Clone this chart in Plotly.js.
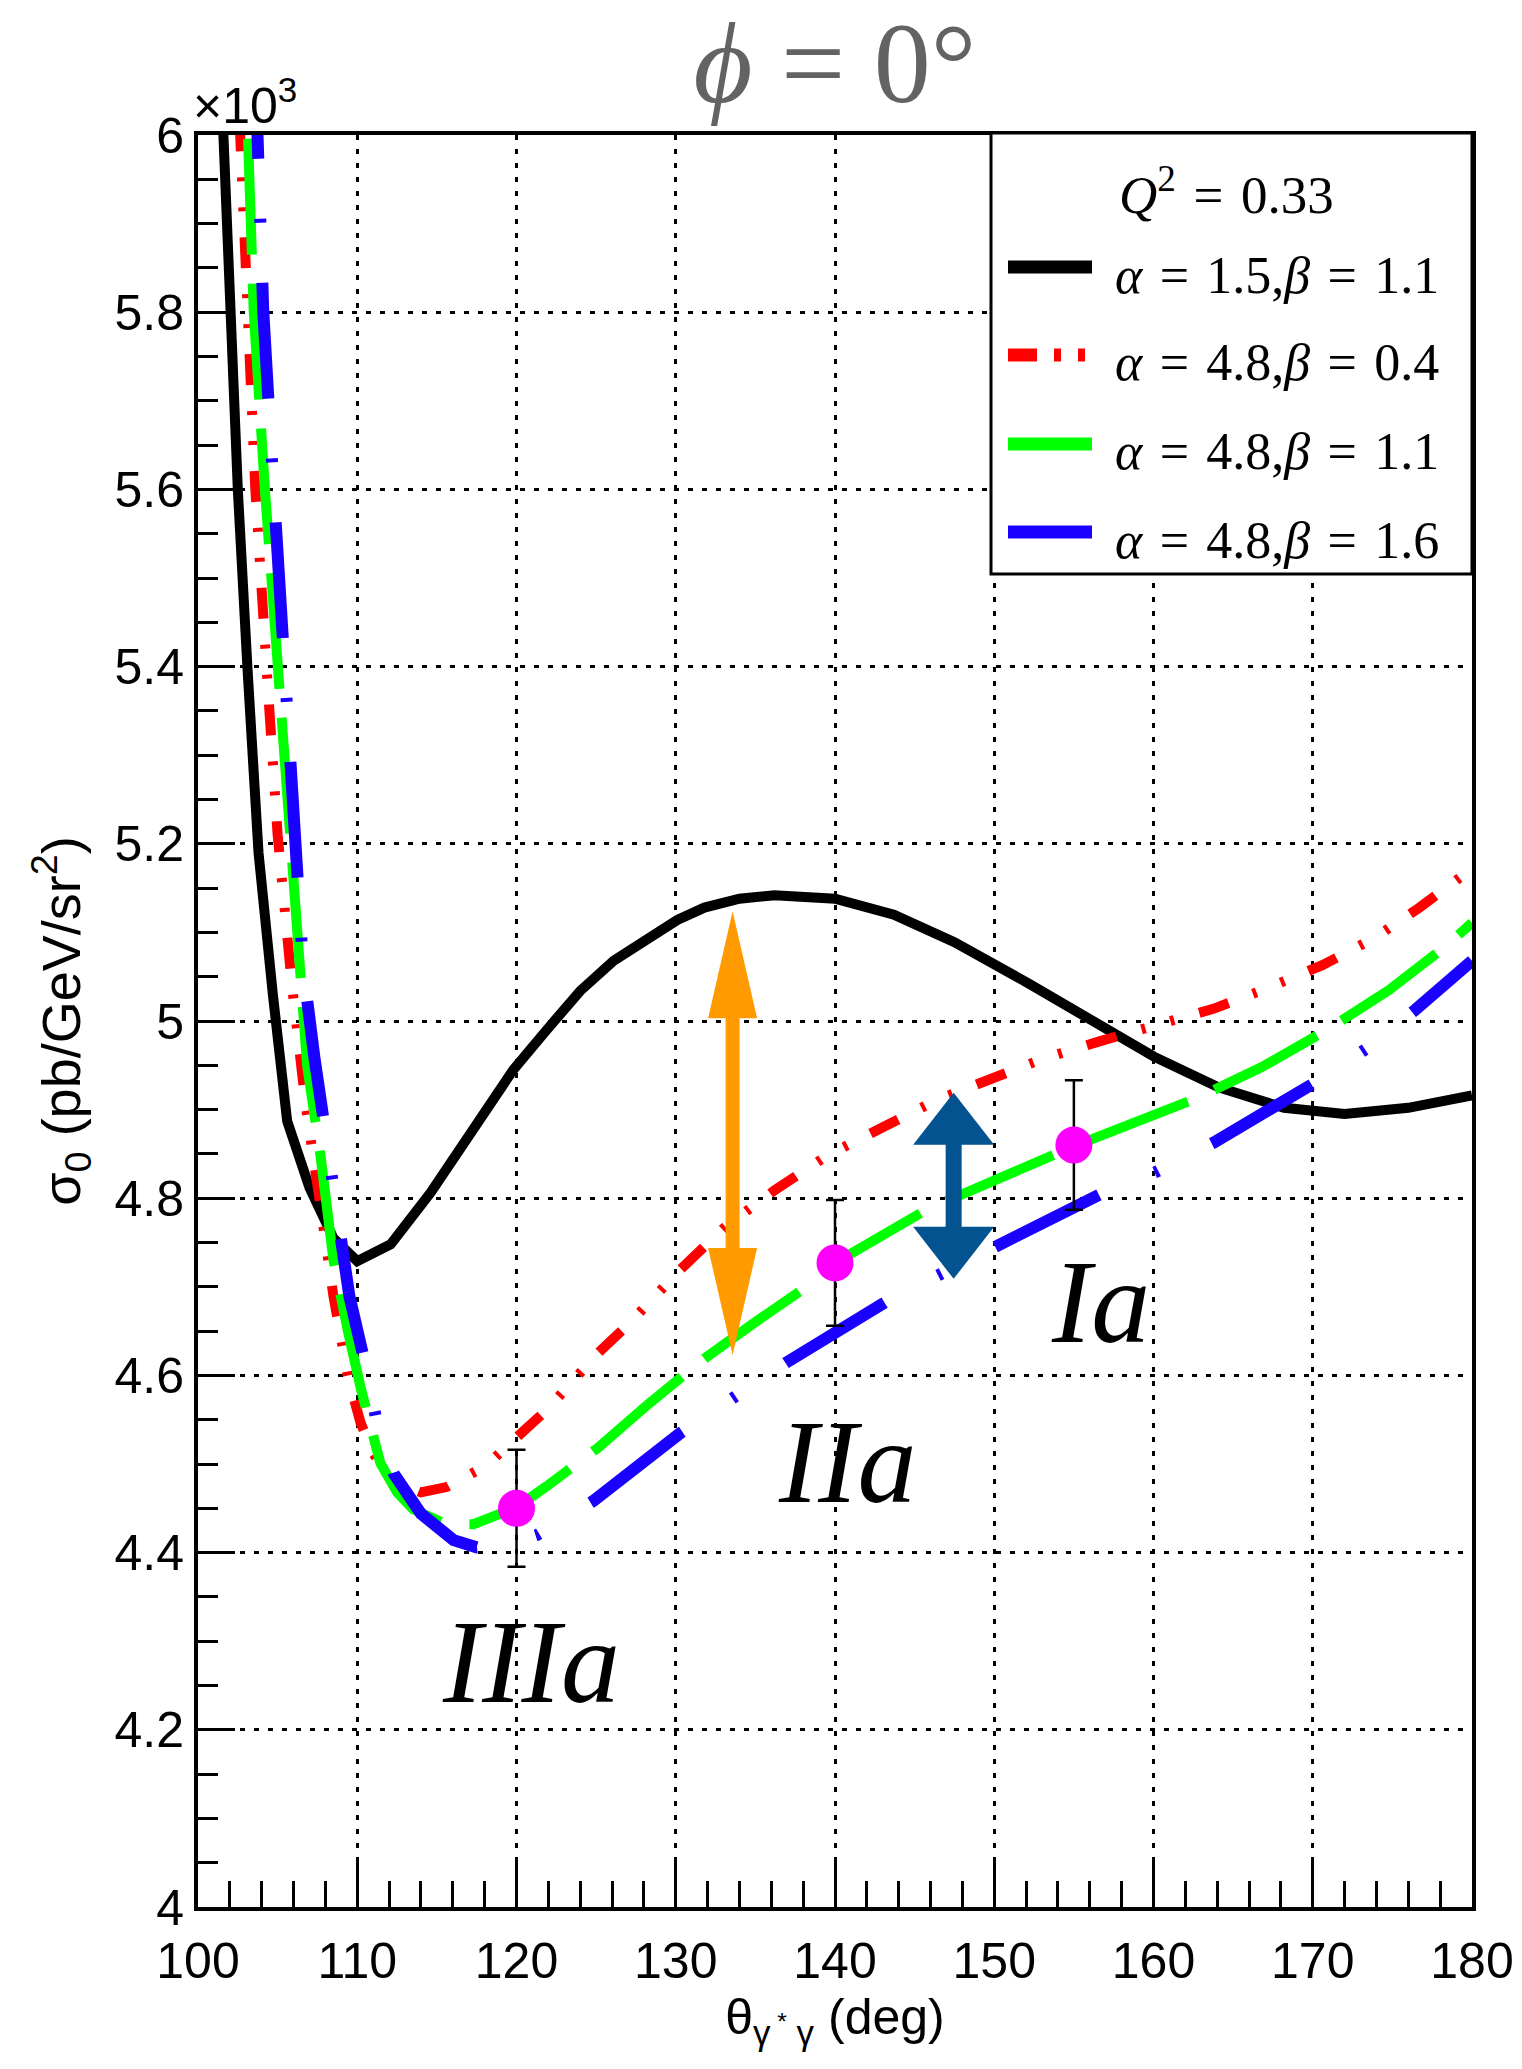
<!DOCTYPE html>
<html>
<head>
<meta charset="utf-8">
<script src="https://cdn.plot.ly/plotly-3.0.1.min.js"></script>
<style>
  html, body { margin: 0; padding: 0; background: #ffffff; }
  #chart { width: 1522px; height: 2069px; }
</style>
</head>
<body>
<div id="chart"></div>
<script>
// ---------------- data (sigma in units of 10^3 pb/GeV/sr^2) ----------------
const thetaBlack = [101.55, 102.0, 102.5, 103.1, 103.8, 104.7, 105.6, 107.0, 108.5, 110.0, 112.1, 114.6, 117.7, 119.8, 121.9, 124.0, 126.1, 128.3, 130.1, 131.8, 134.0, 136.2, 138.0, 140.0, 143.7, 147.5, 152.2, 156.6, 160.0, 164.1, 168.2, 172.0, 176.0, 180.0];
const sigmaBlack = [6.02, 5.80, 5.60, 5.40, 5.19, 5.03, 4.887, 4.812, 4.755, 4.729, 4.748, 4.806, 4.887, 4.945, 4.990, 5.034, 5.068, 5.095, 5.114, 5.128, 5.138, 5.142, 5.141, 5.138, 5.120, 5.089, 5.042, 4.994, 4.960, 4.925, 4.902, 4.895, 4.902, 4.916];

const thetaRed = [102.6, 103.1, 103.6, 104.3, 105.0, 105.9, 106.8, 107.7, 108.5, 109.4, 110.2, 111.0, 111.9, 113.0, 114.0, 115.6, 118.1, 120.0, 121.9, 125.1, 127.1, 130.2, 133.0, 136.2, 139.5, 143.0, 146.3, 149.7, 153.0, 156.6, 160.0, 163.8, 167.0, 170.6, 173.8, 176.7, 180.0];
const sigmaRed = [6.02, 5.80, 5.60, 5.40, 5.21, 5.04, 4.90, 4.79, 4.69, 4.60, 4.547, 4.512, 4.489, 4.475, 4.468, 4.474, 4.498, 4.530, 4.561, 4.625, 4.659, 4.718, 4.766, 4.809, 4.848, 4.880, 4.910, 4.934, 4.957, 4.977, 4.995, 5.014, 5.036, 5.063, 5.093, 5.128, 5.172];

const thetaGreen = [103.1, 103.5, 104.2, 105.0, 105.7, 106.2, 106.85, 107.7, 108.5, 109.4, 110.2, 111.45, 112.5, 113.5, 115.6, 117.3, 119.0, 120.0, 121.9, 125.1, 128.3, 131.8, 134.9, 137.9, 140.0, 145.75, 154.9, 158.7, 162.6, 166.8, 170.9, 174.8, 178.4, 180.0];
const sigmaGreen = [6.02, 5.80, 5.60, 5.40, 5.20, 5.077, 4.950, 4.847, 4.731, 4.651, 4.587, 4.501, 4.468, 4.449, 4.432, 4.432, 4.444, 4.451, 4.475, 4.518, 4.568, 4.619, 4.659, 4.696, 4.727, 4.787, 4.858, 4.885, 4.912, 4.948, 4.990, 5.035, 5.085, 5.111];

const thetaBlue = [103.7, 104.1, 104.75, 105.5, 106.0, 106.6, 107.3, 108.0, 108.7, 109.5, 110.4, 111.2, 112.3, 114.0, 116.05, 117.5, 119.5, 121.3, 124.8, 128.4, 130.3, 136.9, 143.2, 146.6, 150.2, 156.6, 160.2, 163.8, 170.1, 173.3, 176.4, 180.0];
const sigmaBlue = [6.02, 5.80, 5.60, 5.40, 5.25, 5.06, 4.96, 4.87, 4.77, 4.69, 4.62, 4.55, 4.489, 4.444, 4.414, 4.406, 4.410, 4.420, 4.458, 4.51, 4.535, 4.614, 4.683, 4.714, 4.746, 4.804, 4.830, 4.863, 4.930, 4.968, 5.012, 5.068];

const thetaPoints = [120, 140, 155];
const sigmaPoints = [4.45, 4.727, 4.86];
const sigmaErrors = [0.066, 0.071, 0.073];

const seriesNames = ['α = 1.5, β = 1.1', 'α = 4.8, β = 0.4', 'α = 4.8, β = 1.1', 'α = 4.8, β = 1.6'];
const SP = '\u2004';
const legendLabels = [
  '<i>α</i>' + SP + '=' + SP + '1.5,<i>β</i>' + SP + '=' + SP + '1.1',
  '<i>α</i>' + SP + '=' + SP + '4.8,<i>β</i>' + SP + '=' + SP + '0.4',
  '<i>α</i>' + SP + '=' + SP + '4.8,<i>β</i>' + SP + '=' + SP + '1.1',
  '<i>α</i>' + SP + '=' + SP + '4.8,<i>β</i>' + SP + '=' + SP + '1.6'
];
const legendHeader = '<i>Q</i><sup>2</sup>' + SP + '=' + SP + '0.33';
const regionLabels = ['<i>IIIa</i>', '<i>IIa</i>', '<i>Ia</i>'];

const xTickVals = [100, 110, 120, 130, 140, 150, 160, 170, 180];
const xTickText = ['100', '110', '120', '130', '140', '150', '160', '170', '180'];
const yTickVals = [4, 4.2, 4.4, 4.6, 4.8, 5, 5.2, 5.4, 5.6, 5.8, 6];
const yTickText = ['4', '4.2', '4.4', '4.6', '4.8', '5', '5.2', '5.4', '5.6', '5.8', '6'];

// ---------------- geometry helpers ----------------
const W = 1522, H = 2069;
const M = { l: 198, r: 50, t: 135, b: 162 };
const PW = W - M.l - M.r, PH = H - M.t - M.b;
const XR = [100, 180], YR = [4, 6];
const fx = px => (px - M.l) / PW;            // page px -> paper x
const fy = py => (H - M.b - py) / PH;        // page py -> paper y
const dX = px => px * (XR[1] - XR[0]) / PW;  // px length -> data x length
const dY = py => py * (YR[1] - YR[0]) / PH;  // px length -> data y length

// ---------------- styles ----------------
const COLORS = ['#000000', '#ff0000', '#00ff00', '#1a00ff'];
const WIDTHS = [10, 10, 10, 12];
const DASHES = ['solid', '31px,26px,4px,26px,4px,26px', '116px,29px', '116px,60px,4px,60px'];
const PERIODS = [0, 117, 145, 240];
// a dash of each pattern begins at these points of the curve (theta, sigma)
const DASH_ANCHORS = [null, [148.81, 4.932], [131.8, 4.619], [136.9, 4.614]];
const SERIF = 'Liberation Serif, Times New Roman, serif';
const SANS = 'Liberation Sans, Arial, Helvetica, sans-serif';

const xs = [thetaBlack, thetaRed, thetaGreen, thetaBlue];
const ys = [sigmaBlack, sigmaRed, sigmaGreen, sigmaBlue];

const traces = xs.map((x, i) => ({
  type: 'scatter', mode: 'lines', x: x, y: ys[i], name: seriesNames[i],
  line: { color: COLORS[i], width: WIDTHS[i], dash: DASHES[i] },
  showlegend: false, hoverinfo: 'skip'
}));

traces.push({
  type: 'scatter', mode: 'markers', x: thetaPoints, y: sigmaPoints, name: 'points',
  marker: { color: '#ff00ff', size: 37, line: { width: 0 } },
  error_y: { type: 'data', array: sigmaErrors, visible: true, color: '#000000', thickness: 2.5, width: 9 },
  showlegend: false, hoverinfo: 'skip'
});

// ---------------- arrows ----------------
function dblArrow(xc, yTop, yBot, headLenPx, headHalfPx, shaftHalfPx, color) {
  const hl = dY(headLenPx), hw = dX(headHalfPx), sw = dX(shaftHalfPx);
  const p = [[xc, yTop], [xc + hw, yTop - hl], [xc + sw, yTop - hl], [xc + sw, yBot + hl], [xc + hw, yBot + hl],
             [xc, yBot], [xc - hw, yBot + hl], [xc - sw, yBot + hl], [xc - sw, yTop - hl], [xc - hw, yTop - hl]];
  return { type: 'path', xref: 'x', yref: 'y', layer: 'above',
           path: 'M' + p.map(q => q[0] + ',' + q[1]).join('L') + 'Z',
           fillcolor: color, line: { width: 0 } };
}

const shapes = [
  dblArrow(133.57, 5.124, 4.623, 107, 24.5, 7, '#ff9a00'),
  dblArrow(147.45, 4.919, 4.709, 52, 40.5, 8, '#02538f'),
  // legend box
  { type: 'rect', xref: 'paper', yref: 'paper', layer: 'above',
    x0: fx(991), x1: fx(1472), y0: fy(574), y1: fy(133),
    fillcolor: '#ffffff', line: { color: '#000000', width: 3 } }
];

const rowY = [267, 355, 444, 532];
const legendDash = ['solid', '29px,17px,7px,17px,7px,17px', 'solid', 'solid'];
rowY.forEach((ry, i) => {
  shapes.push({ type: 'line', xref: 'paper', yref: 'paper', layer: 'above',
    x0: fx(1008), x1: fx(1092), y0: fy(ry), y1: fy(ry),
    line: { color: COLORS[i], width: 13, dash: legendDash[i] } });
});

const annotations = [
  { text: legendHeader, xref: 'paper', yref: 'paper', x: fx(1226), y: fy(191),
    xanchor: 'center', yanchor: 'middle', showarrow: false,
    font: { family: SERIF, size: 53, color: '#000000' } },
  { text: '×10<sup>3</sup>', xref: 'paper', yref: 'paper', x: fx(191), y: fy(136),
    xanchor: 'left', yanchor: 'bottom', showarrow: false,
    font: { family: SANS, size: 50, color: '#000000' } },
  { text: regionLabels[0], xref: 'x', yref: 'y', x: 120.93, y: 4.276, xanchor: 'center', yanchor: 'middle',
    showarrow: false, font: { family: SERIF, size: 118, color: '#000000' } },
  { text: regionLabels[1], xref: 'x', yref: 'y', x: 140.77, y: 4.502, xanchor: 'center', yanchor: 'middle',
    showarrow: false, font: { family: SERIF, size: 118, color: '#000000' } },
  { text: regionLabels[2], xref: 'x', yref: 'y', x: 156.65, y: 4.682, xanchor: 'center', yanchor: 'middle',
    showarrow: false, font: { family: SERIF, size: 118, color: '#000000' } }
];
rowY.forEach((ry, i) => {
  annotations.push({ text: legendLabels[i], xref: 'paper', yref: 'paper', x: fx(1113), y: fy(ry + 8),
    xanchor: 'left', yanchor: 'middle', showarrow: false,
    font: { family: SERIF, size: 52, color: '#000000' } });
});

const axisCommon = {
  ticks: 'inside', tickwidth: 3, tickcolor: '#000000',
  showline: true, linewidth: 4, linecolor: '#000000', mirror: true,
  showgrid: true, gridcolor: '#000000', gridwidth: 3, griddash: '5px,9px',
  zeroline: false, tickmode: 'array',
  tickfont: { family: SANS, size: 50, color: '#000000' }
};

const layout = {
  width: W, height: H,
  margin: M,
  paper_bgcolor: '#ffffff', plot_bgcolor: '#ffffff',
  showlegend: false,
  title: {
    text: '<i>ϕ</i> = 0°',
    font: { family: SERIF, size: 114, color: '#636363' },
    xref: 'paper', x: 0.5, xanchor: 'center',
    yref: 'container', y: 1 - 62 / H, yanchor: 'middle'
  },
  xaxis: Object.assign({}, axisCommon, {
    range: XR, tickvals: xTickVals, ticktext: xTickText, ticklen: 48, ticklabelstandoff: 7,
    minor: { tickmode: 'linear', tick0: 100, dtick: 2, ticks: 'inside', ticklen: 26, tickwidth: 3, tickcolor: '#000000', showgrid: false },
    title: { text: 'θ<sub>γ<sup> *</sup> γ</sub> (deg)', font: { family: SANS, size: 50, color: '#000000' }, standoff: 4 }
  }),
  yaxis: Object.assign({}, axisCommon, {
    range: YR, tickvals: yTickVals, ticktext: yTickText, ticklen: 37,
    minor: { tickmode: 'linear', tick0: 4, dtick: 0.05, ticks: 'inside', ticklen: 20, tickwidth: 3, tickcolor: '#000000', showgrid: false },
    title: { text: 'σ<sub>0</sub> (pb/GeV/sr<sup>2</sup>)', font: { family: SANS, size: 54, color: '#000000' }, standoff: 18 }
  }),
  shapes: shapes,
  annotations: annotations
};

// shift the start of each dash pattern so a dash begins at the anchor point
function alignDashes(gd) {
  const lines = gd.querySelectorAll('.scatterlayer .trace');
  DASH_ANCHORS.forEach((a, i) => {
    if (!a || !lines[i]) return;
    const path = lines[i].querySelector('path.js-line');
    if (!path) return;
    const tx = (a[0] - XR[0]) * PW / (XR[1] - XR[0]);
    const ty = (YR[1] - a[1]) * PH / (YR[1] - YR[0]);
    const L = path.getTotalLength();
    let best = 0, bestD = Infinity;
    for (let s = 0; s <= L; s += 0.5) {
      const p = path.getPointAtLength(s);
      const d = (p.x - tx) * (p.x - tx) + (p.y - ty) * (p.y - ty);
      if (d < bestD) { bestD = d; best = s; }
    }
    const P = PERIODS[i];
    const off = (P - (best % P)) % P;
    path.style.strokeDashoffset = off + 'px';
  });
}

Plotly.newPlot('chart', traces, layout, { displayModeBar: false, staticPlot: true })
  .then(gd => alignDashes(gd));
</script>
</body>
</html>
